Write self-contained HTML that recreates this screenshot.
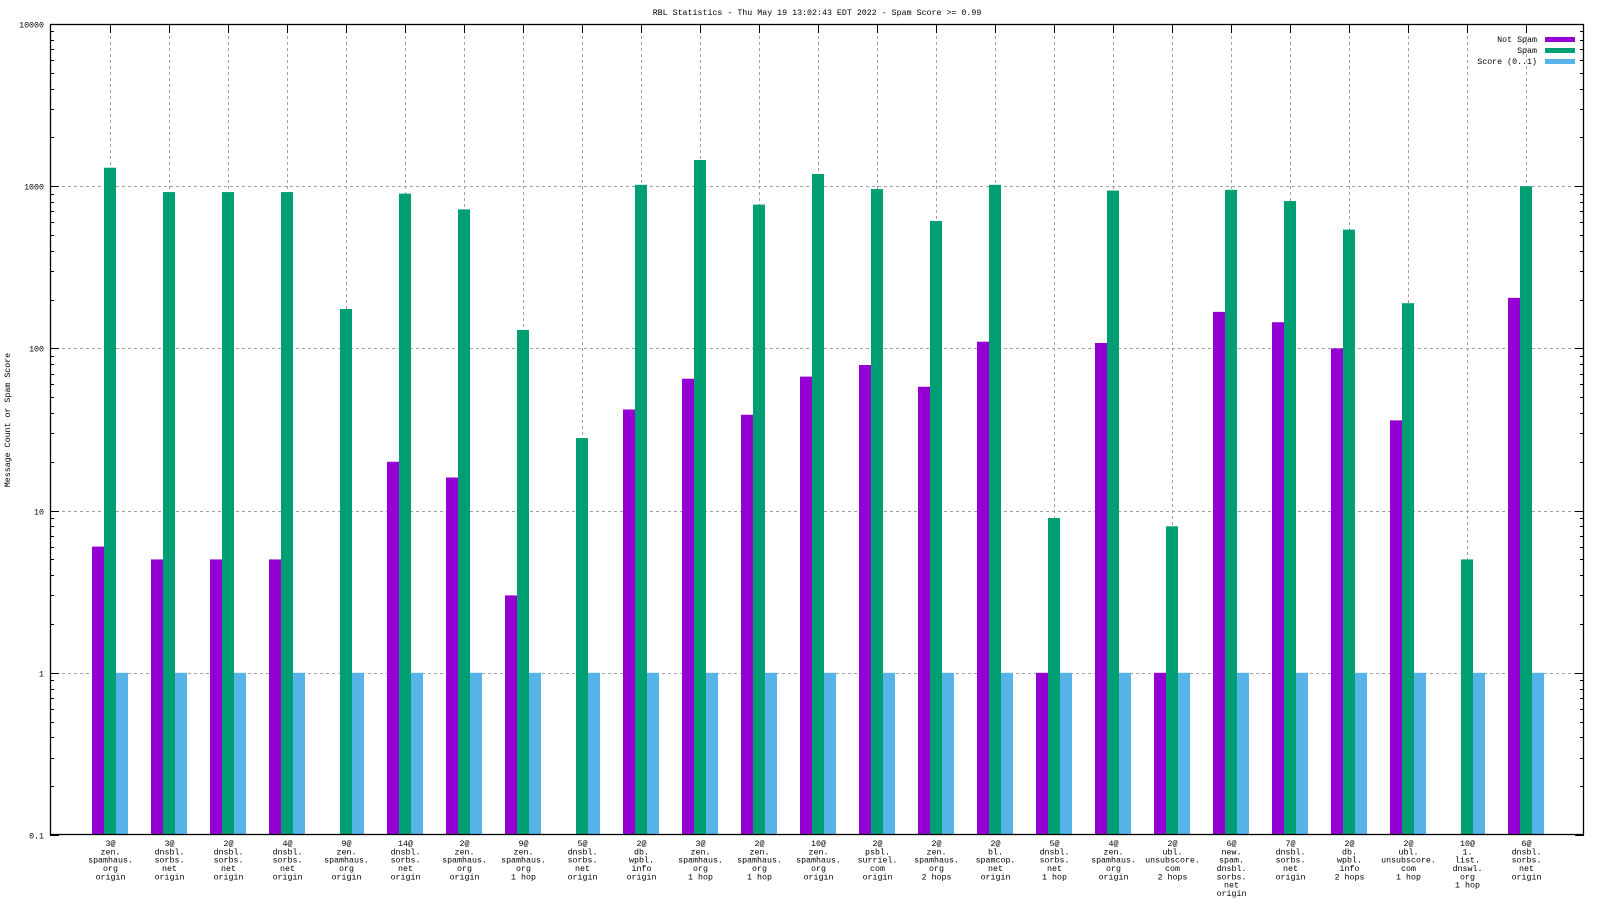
<!DOCTYPE html>
<html>
<head>
<meta charset="utf-8">
<style>
html,body{margin:0;padding:0;background:#fff;}
svg{display:block;}
text{font-family:"Liberation Mono","DejaVu Sans Mono",monospace;font-size:8.3px;fill:#000;}
</style>
</head>
<body>
<svg id="chart" width="1600" height="900" viewBox="0 0 1600 900" xmlns="http://www.w3.org/2000/svg">
  <text x="817" y="15" text-anchor="middle">RBL Statistics - Thu May 19 13:02:43 EDT 2022 - Spam Score &gt;= 0.99</text>
  <text x="0" y="0" text-anchor="middle" transform="translate(10,420) rotate(-90)">Message Count or Spam Score</text>
  <g id="grid"></g>
  <g id="bars"></g>
  <g id="axes"></g>
  <g id="legend"></g>
</svg>
<script>
const categories = [
  ["3@","zen.","spamhaus.","org","origin"],
  ["3@","dnsbl.","sorbs.","net","origin"],
  ["2@","dnsbl.","sorbs.","net","origin"],
  ["4@","dnsbl.","sorbs.","net","origin"],
  ["9@","zen.","spamhaus.","org","origin"],
  ["14@","dnsbl.","sorbs.","net","origin"],
  ["2@","zen.","spamhaus.","org","origin"],
  ["9@","zen.","spamhaus.","org","1 hop"],
  ["5@","dnsbl.","sorbs.","net","origin"],
  ["2@","db.","wpbl.","info","origin"],
  ["3@","zen.","spamhaus.","org","1 hop"],
  ["2@","zen.","spamhaus.","org","1 hop"],
  ["10@","zen.","spamhaus.","org","origin"],
  ["2@","psbl.","surriel.","com","origin"],
  ["2@","zen.","spamhaus.","org","2 hops"],
  ["2@","bl.","spamcop.","net","origin"],
  ["5@","dnsbl.","sorbs.","net","1 hop"],
  ["4@","zen.","spamhaus.","org","origin"],
  ["2@","ubl.","unsubscore.","com","2 hops"],
  ["6@","new.","spam.","dnsbl.","sorbs.","net","origin"],
  ["7@","dnsbl.","sorbs.","net","origin"],
  ["2@","db.","wpbl.","info","2 hops"],
  ["2@","ubl.","unsubscore.","com","1 hop"],
  ["10@","1.","list.","dnswl.","org","1 hop"],
  ["6@","dnsbl.","sorbs.","net","origin"]
];
const notSpam = [6,5,5,5,null,20,16,3,null,42,65,39,67,79,58,110,1,108,1,168,145,100,36,null,205];
const spam = [1300,920,920,920,175,900,720,130,28,1020,1450,770,1190,960,610,1020,9,940,8,950,810,540,190,5,1000];
const score = [1,1,1,1,1,1,1,1,1,1,1,1,1,1,1,1,1,1,1,1,1,1,1,1,1];
const yTicks = [0.1,1,10,100,1000,10000];
const yTickLabels = ["0.1","1","10","100","1000","10000"];
const seriesNames = ["Not Spam","Spam","Score (0..1)"];

const NS = "http://www.w3.org/2000/svg";
const L = 50, R = 1584, T = 24, B = 835;
const yMin = -1, yMax = 4;
function y(v){ return B - (Math.log10(v) - yMin) / (yMax - yMin) * (B - T); }
const first = 109.5, last = 1525.5;
function x(i){ return first + i * (last - first) / (categories.length - 1); }
function mk(tag, attrs, parent){
  const e = document.createElementNS(NS, tag);
  for (const k in attrs) e.setAttribute(k, attrs[k]);
  parent.appendChild(e);
  return e;
}
const grid = document.getElementById('grid');
const bars = document.getElementById('bars');
const axes = document.getElementById('axes');
const legend = document.getElementById('legend');
const gstyle = {stroke:"#a0a0a0","stroke-width":1,"stroke-dasharray":"3,3"};

// horizontal grid
yTicks.forEach((v,i)=>{
  if (i===0 || i===yTicks.length-1) return;
  const yy = Math.round(y(v))+0.5;
  const g = mk('line', Object.assign({x1:L,x2:R,y1:yy,y2:yy}, gstyle), grid);
  
  
});
// vertical grid
categories.forEach((c,i)=>{
  const xx = Math.round(x(i))+0.5;
  const g = mk('line', Object.assign({x1:xx,x2:xx,y1:T,y2:B}, gstyle), grid);
  
  
});

const colors = ["#9400d3","#009e73","#56b4e9"];
const series = [notSpam, spam, score];
const bw = 12;
categories.forEach((c,i)=>{
  const cx = Math.round(x(i));
  series.forEach((s,k)=>{
    const v = s[i];
    if (v === null || v === undefined) return;
    const top = y(v);
    const r = mk('rect', {x: cx - 18 + k*bw, y: top, width: bw, height: B - top, fill: colors[k]}, bars);
    
    
  });
});

// axis frame
const frame = mk('rect', {x:L+0.5,y:T+0.5,width:R-L-1,height:B-T-1,fill:"none",stroke:"#000","stroke-width":1.3}, axes);



// y ticks
yTicks.forEach((v,i)=>{
  const yy = Math.round(y(v))+0.5;
  const t1 = mk('line', {x1:L,x2:L+9,y1:yy,y2:yy,stroke:"#000","stroke-width":1}, axes);
  
  
  const t2 = mk('line', {x1:R-9,x2:R,y1:yy,y2:yy,stroke:"#000","stroke-width":1}, axes);
  
  
  const lb = mk('text', {x:L-6,y:yy+3,"text-anchor":"end"}, axes);
  lb.textContent = yTickLabels[i];
  
  
  if (i < yTicks.length-1){
    for (let m=2;m<=9;m++){
      const ym = Math.round(y(v*m))+0.5;
      const a = mk('line', {x1:L,x2:L+4,y1:ym,y2:ym,stroke:"#000","stroke-width":1}, axes);
      
      
      const b = mk('line', {x1:R-4,x2:R,y1:ym,y2:ym,stroke:"#000","stroke-width":1}, axes);
      
      
    }
  }
});

// x ticks & labels
categories.forEach((c,i)=>{
  const xx = Math.round(x(i))+0.5;
  const t = mk('line', {x1:xx,x2:xx,y1:T,y2:T+9,stroke:"#000","stroke-width":1}, axes);
  
  
  const tx = mk('text', {x:xx,y:846,"text-anchor":"middle"}, axes);
  
  
  c.forEach((line,j)=>{
    const ts = mk('tspan', {x:xx, y: 846 + j*8.33}, tx);
    ts.textContent = line;
  });
});

// legend
seriesNames.forEach((n,k)=>{
  const yy = 39 + k*11;
  const t = mk('text', {x:1537,y:yy+3,"text-anchor":"end"}, legend);
  t.textContent = n;
  
  
  const s = mk('rect', {x:1545,y:yy-2,width:30,height:5,fill:colors[k]}, legend);
  
  
});
</script>
</body>
</html>
